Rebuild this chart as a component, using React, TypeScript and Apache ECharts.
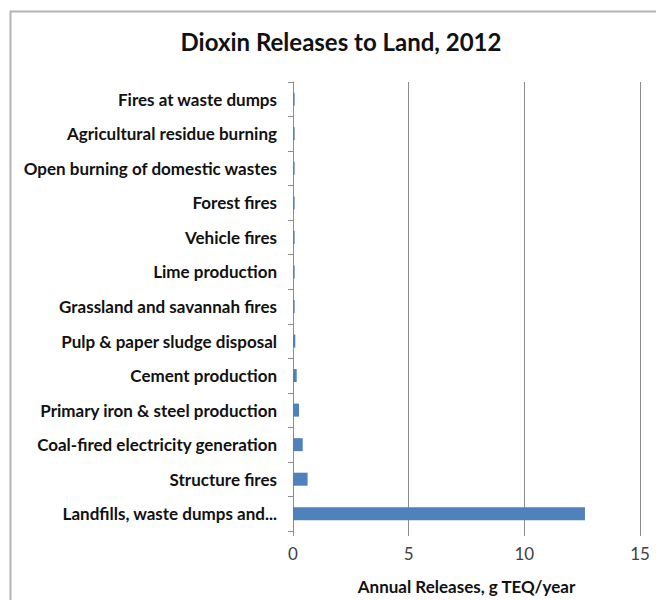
import React, { useEffect, useRef } from "react";
import * as echarts from "echarts";

const categories = [
  "Fires at waste dumps",
  "Agricultural residue burning",
  "Open burning of domestic wastes",
  "Forest fires",
  "Vehicle fires",
  "Lime production",
  "Grassland and savannah fires",
  "Pulp & paper sludge disposal",
  "Cement production",
  "Primary iron & steel production",
  "Coal-fired electricity generation",
  "Structure fires",
  "Landfills, waste dumps and...",
];
const releases = [0.07, 0.07, 0.07, 0.07, 0.07, 0.07, 0.07, 0.1, 0.16, 0.26, 0.42, 0.63, 12.62];
const xTicks = { min: 0, max: 15, interval: 5 };
const title = "Dioxin Releases to Land, 2012";
const xName = "Annual Releases, g TEQ/year";

const FONT = "Lato, 'Open Sans', sans-serif";

export default function App() {
  const ref = useRef<HTMLDivElement>(null);
  useEffect(() => {
    const el = ref.current!;
    const chart = echarts.init(el, null, { renderer: "svg" });
    chart.setOption({
      animation: false,
      backgroundColor: "#ffffff",
      graphic: [
        {
          type: "rect",
          left: 8,
          top: 9,
          shape: { x: 0, y: 0, width: 700, height: 700 },
          style: { fill: "none", stroke: "#b4b4b4", lineWidth: 2 },
          silent: true,
          z: -1,
        },
      ],
      title: {
        text: title,
        left: 336,
        top: 24,
        textAlign: "center",
        textStyle: { fontFamily: FONT, fontWeight: "bold", fontSize: 24, color: "#111111" },
      },
      grid: { left: 293, right: 16, top: 82, bottom: 68, containLabel: false },
      xAxis: {
        type: "value",
        min: xTicks.min,
        max: xTicks.max,
        interval: xTicks.interval,
        name: xName,
        nameLocation: "middle",
        nameGap: 47,
        nameTextStyle: { fontFamily: FONT, fontWeight: "bold", fontSize: 17, color: "#111111" },
        axisLine: { show: false },
        axisTick: { show: true, length: 5, lineStyle: { color: "#8c8c8c" } },
        axisLabel: { fontFamily: FONT, fontSize: 17, color: "#404040", margin: 14 },
        splitLine: { show: true, lineStyle: { color: "#8c8c8c", width: 1 } },
      },
      yAxis: {
        type: "category",
        data: categories,
        inverse: true,
        axisLine: { show: true, lineStyle: { color: "#8c8c8c" } },
        axisTick: { show: true, length: 5, lineStyle: { color: "#8c8c8c" } },
        axisLabel: { fontFamily: FONT, fontWeight: "bold", fontSize: 17, color: "#111111", margin: 16 },
      },
      series: [
        {
          type: "bar",
          data: releases,
          barWidth: 13,
          itemStyle: { color: "#4f81bd" },
        },
      ],
    });
    return () => chart.dispose();
  }, []);
  return (
    <div
      ref={ref}
      style={{ position: "fixed", left: 0, top: 0, width: 656, height: 600 }}
    />
  );
}
